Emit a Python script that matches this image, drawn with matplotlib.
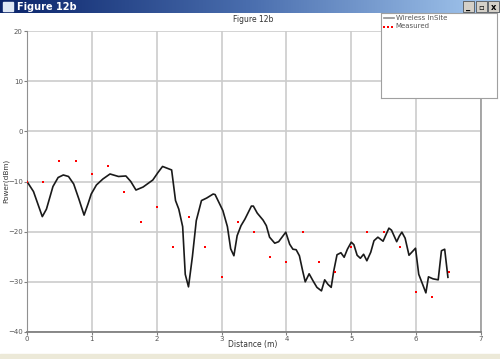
import numpy as np
import matplotlib
matplotlib.use("Agg")
import matplotlib.pyplot as plt
from matplotlib.patches import Rectangle
from matplotlib.colors import LinearSegmentedColormap

# Simulated (Wireless InSite) curve
sim_x = [0.0, 0.10, 0.236, 0.30, 0.40, 0.48, 0.56, 0.64, 0.72, 0.80, 0.88, 0.94, 0.99, 1.07, 1.17, 1.28,
         1.41, 1.525, 1.60, 1.68, 1.79, 1.94, 2.02, 2.09, 2.23, 2.29, 2.34, 2.40, 2.44, 2.49, 2.55,
         2.61, 2.69, 2.77, 2.87, 2.90, 3.02, 3.09, 3.14, 3.19, 3.24, 3.30, 3.36, 3.46, 3.49, 3.55,
         3.64, 3.69, 3.74, 3.82, 3.88, 3.99, 4.05, 4.10, 4.15, 4.20, 4.25, 4.29, 4.35, 4.41,
         4.47, 4.54, 4.59, 4.64, 4.69, 4.73, 4.78, 4.84, 4.89, 4.94, 5.00, 5.04, 5.09, 5.14,
         5.19, 5.24, 5.30, 5.35, 5.41, 5.49, 5.58, 5.62, 5.70, 5.74, 5.78, 5.83, 5.89, 5.94,
         5.99, 6.04, 6.10, 6.15, 6.19, 6.26, 6.34, 6.39, 6.44, 6.49]
sim_y = [-10.0, -12.0, -17.0, -15.5, -11.0, -9.2, -8.7, -9.0, -10.5, -13.5, -16.7, -14.5, -12.5, -10.7,
         -9.5, -8.5, -9.0, -8.9, -10.0, -11.7, -11.1, -9.7, -8.2, -7.0, -7.7, -13.8, -15.5, -19.0,
         -28.5, -31.0, -25.0, -17.8, -13.8, -13.3, -12.5, -12.6, -15.8, -19.0, -23.4, -24.8, -20.8,
         -18.8, -17.5, -14.9, -14.9, -16.3, -17.7, -18.8, -21.1, -22.3, -22.0, -20.1, -22.5,
         -23.5, -23.6, -24.8, -27.8, -30.0, -28.4, -29.8, -31.1, -31.8, -29.6, -30.5, -31.1,
         -27.8, -24.6, -24.2, -25.1, -23.5, -22.1, -22.6, -24.7, -25.3, -24.5, -25.8, -24.1,
         -21.8, -21.1, -21.9, -19.3, -19.7, -22.0, -20.9, -20.1, -21.3, -24.7, -24.0, -23.3,
         -28.5, -30.5, -32.2, -29.0, -29.4, -29.6, -23.8, -23.5, -29.1]

# Measured points
meas_x = [0.0, 0.25, 0.5, 0.75, 1.0, 1.25, 1.5, 1.75, 2.0, 2.25, 2.5, 2.75, 3.0, 3.25,
          3.5, 3.75, 4.0, 4.25, 4.5, 4.75, 5.0, 5.25, 5.5, 5.75, 6.0, 6.25, 6.5]
meas_y = [-10, -10, -6, -6, -8.5, -7, -12, -18, -15, -23, -17, -23, -29, -18,
          -20, -25, -26, -20, -26, -28, -23, -20, -20, -23, -32, -33, -28]

xticks = [0, 1, 2, 3, 4, 5, 6, 7]
yticks = [-40, -30, -20, -10, 0, 10, 20]

W, H = 500, 359
fig = plt.figure(figsize=(5.0, 3.59), dpi=100)
fig.patch.set_facecolor("white")

def fx(px):
    return px / W
def fy(py):
    return 1 - py / H

# Bottom gray strip
fig.patches.append(Rectangle((0, 0), 1, fy(354), transform=fig.transFigure, color="#ece9d8", zorder=0))

ax = fig.add_axes([fx(27), fy(332), fx(481) - fx(27), fy(31) - fy(332)])
ax.plot(sim_x, sim_y, color="#1a1a1a", lw=1.2, zorder=3)
ax.scatter(meas_x, meas_y, s=4.5, color="#ff0000", marker="s", linewidths=0, zorder=4)
ax.set_xlim(0, 7)
ax.set_ylim(-40, 20)
ax.set_xticks(xticks)
ax.set_yticks(yticks)
ax.grid(True, color="#cccccc", lw=1.2)
ax.set_axisbelow(True)
ax.spines["top"].set_visible(False)
ax.spines["left"].set_color("#909090")
ax.spines["bottom"].set_color("#808080")
ax.spines["right"].set_color("#a0a0a0")
ax.spines["bottom"].set_linewidth(1.3)
ax.spines["right"].set_linewidth(1.3)
ax.tick_params(axis="both", length=2, width=0.8, colors="#808080", labelsize=5, labelcolor="#555555", pad=1.0)

fig.text(fx(253), fy(345), "Distance (m)", fontsize=5.5, color="#333333", ha="center", va="center")
fig.text(fx(6), fy(181), "Power(dBm)", fontsize=5.2, color="#333333", ha="center", va="center", rotation=90)
fig.text(fx(253), fy(20), "Figure 12b", fontsize=5.5, color="#333333", ha="center", va="center")

# Title bar (window chrome)
bar = fig.add_axes([0, fy(13), 1, 13 / H])
grad = np.linspace(0, 1, 256).reshape(1, -1)
cmap = LinearSegmentedColormap.from_list("bar", ["#0a246a", "#4a6eae", "#a6caf0"])
bar.imshow(grad, aspect="auto", cmap=cmap, extent=[0, 1, 0, 1])
bar.set_xlim(0, 1); bar.set_ylim(0, 1)
bar.axis("off")
bar.add_patch(Rectangle((3 / W, 0.12), 10 / W, 0.76, color="#dfe8f5", transform=bar.transAxes))
bar.text(17 / W, 0.5, "Figure 12b", color="white", fontsize=7, fontweight="bold", va="center", ha="left")
for i, lab in enumerate(["_", "▫", "x"]):
    x0 = (463 + i * 12.5) / W
    bar.add_patch(Rectangle((x0, 0.08), 11 / W, 0.84, facecolor="#d4d0c8", edgecolor="#404040", lw=0.5))
    bar.text(x0 + 5.5 / W, 0.45, lab, color="black", fontsize=6, fontweight="bold", ha="center", va="center")

# Legend box
leg = fig.add_axes([fx(381), fy(98), fx(497) - fx(381), fy(13) - fy(98)])
leg.set_xlim(0, 116); leg.set_ylim(85, 0)
leg.set_xticks([]); leg.set_yticks([])
for s in leg.spines.values():
    s.set_color("#a0a0a0"); s.set_linewidth(0.8)
leg.plot([3, 13], [4.5, 4.5], color="#909090", lw=1.2)
leg.text(15, 4.5, "Wireless InSite", fontsize=5, color="#555555", va="center")
leg.scatter([3, 7, 11], [13.5, 13.5, 13.5], s=3, color="#ff0000", marker="s", linewidths=0)
leg.text(14, 13.5, "Measured", fontsize=5, color="#555555", va="center")

fig.savefig("out.png", dpi=100, facecolor="white")
